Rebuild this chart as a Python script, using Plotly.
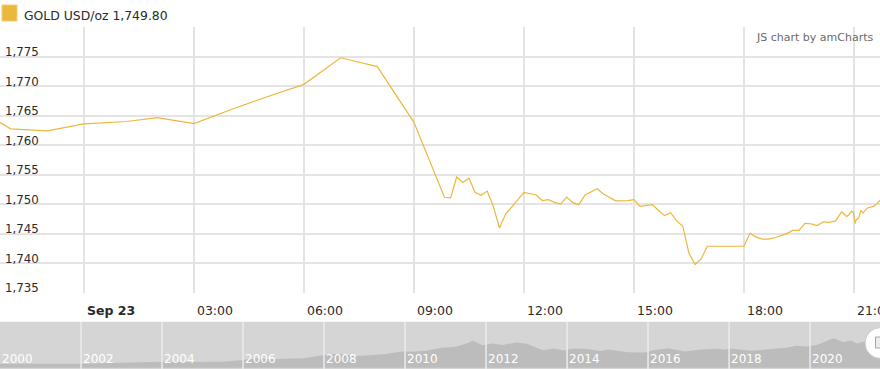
import plotly.graph_objects as go

# ---------------- data ----------------
times = [
    "2021-09-22 21:40", "2021-09-22 22:00", "2021-09-22 23:00",
    "2021-09-23 00:00", "2021-09-23 01:10", "2021-09-23 02:00", "2021-09-23 03:00",
    "2021-09-23 04:00", "2021-09-23 05:00", "2021-09-23 06:00", "2021-09-23 07:00",
    "2021-09-23 08:00", "2021-09-23 09:00", "2021-09-23 09:50", "2021-09-23 10:00",
    "2021-09-23 10:10", "2021-09-23 10:20", "2021-09-23 10:30", "2021-09-23 10:40",
    "2021-09-23 10:50", "2021-09-23 11:00", "2021-09-23 11:10", "2021-09-23 11:20",
    "2021-09-23 11:30", "2021-09-23 11:40", "2021-09-23 12:00", "2021-09-23 12:20",
    "2021-09-23 12:30", "2021-09-23 12:40", "2021-09-23 12:50", "2021-09-23 13:00",
    "2021-09-23 13:10", "2021-09-23 13:20", "2021-09-23 13:30", "2021-09-23 13:40",
    "2021-09-23 14:00", "2021-09-23 14:10", "2021-09-23 14:30", "2021-09-23 14:50",
    "2021-09-23 15:00", "2021-09-23 15:10", "2021-09-23 15:30", "2021-09-23 15:40",
    "2021-09-23 15:50", "2021-09-23 16:00", "2021-09-23 16:10", "2021-09-23 16:20",
    "2021-09-23 16:30", "2021-09-23 16:40", "2021-09-23 16:50", "2021-09-23 17:00",
    "2021-09-23 18:00", "2021-09-23 18:10", "2021-09-23 18:20", "2021-09-23 18:30",
    "2021-09-23 18:40", "2021-09-23 18:50", "2021-09-23 19:00", "2021-09-23 19:10",
    "2021-09-23 19:20", "2021-09-23 19:30", "2021-09-23 19:40", "2021-09-23 19:50",
    "2021-09-23 20:00", "2021-09-23 20:10", "2021-09-23 20:20", "2021-09-23 20:30",
    "2021-09-23 20:40", "2021-09-23 20:48", "2021-09-23 20:52", "2021-09-23 20:56",
    "2021-09-23 20:59", "2021-09-23 21:02", "2021-09-23 21:04", "2021-09-23 21:08",
    "2021-09-23 21:11", "2021-09-23 21:15", "2021-09-23 21:22", "2021-09-23 21:32",
    "2021-09-23 21:37", "2021-09-23 21:43",
]
prices = [
    1764.0, 1762.75, 1762.4,
    1763.6, 1764.0, 1764.65, 1763.65,
    1766.0, 1768.2, 1770.3, 1774.8,
    1773.3, 1763.85, 1751.15, 1751.05,
    1754.6, 1753.65, 1754.4, 1752.0,
    1751.5, 1752.2, 1749.6, 1745.95,
    1748.3, 1749.5, 1752.0, 1751.55,
    1750.6, 1750.75, 1750.3, 1750.0,
    1751.2, 1750.25, 1749.9, 1751.55,
    1752.6, 1751.7, 1750.55, 1750.6,
    1750.75, 1749.6, 1749.9, 1748.95,
    1748.05, 1748.55, 1747.15, 1746.25,
    1741.7, 1739.75, 1740.7, 1742.85,
    1742.85, 1745.05, 1744.4, 1744.05,
    1744.05, 1744.3, 1744.7, 1745.0,
    1745.55, 1745.55, 1746.75, 1746.65,
    1746.35, 1747.0, 1746.9, 1747.15,
    1748.7, 1747.9, 1748.2, 1748.8,
    1748.6, 1746.7, 1747.4, 1747.65,
    1748.95, 1748.5, 1749.35, 1749.6,
    1750.0, 1750.65,
]

y_ticks = [1735, 1740, 1745, 1750, 1755, 1760, 1765, 1770, 1775, 1780]
y_tick_text = ["1,735", "1,740", "1,745", "1,750", "1,755", "1,760", "1,765", "1,770", "1,775", ""]

x_ticks = ["2021-09-23 00:00", "2021-09-23 03:00", "2021-09-23 06:00", "2021-09-23 09:00",
           "2021-09-23 12:00", "2021-09-23 15:00", "2021-09-23 18:00", "2021-09-23 21:00"]
x_tick_text = ["<b>Sep 23</b>", "03:00", "06:00", "09:00", "12:00", "15:00", "18:00", "21:00"]

hist_dates = [
    "2000-01-01", "2000-07-01", "2001-01-01", "2001-07-01", "2002-01-01", "2002-07-01",
    "2003-01-01", "2003-07-01", "2004-01-01", "2004-07-01", "2005-01-01", "2005-07-01",
    "2006-01-01", "2006-05-01", "2006-10-01", "2007-01-01", "2007-07-01", "2007-11-01",
    "2008-03-01", "2008-07-01", "2008-10-01", "2009-01-01", "2009-07-01", "2009-12-01",
    "2010-03-01", "2010-07-01", "2010-12-01", "2011-04-01", "2011-08-01", "2011-09-01",
    "2011-12-01", "2012-03-01", "2012-06-01", "2012-10-01", "2013-01-01", "2013-04-01",
    "2013-06-01", "2013-09-01", "2013-12-01", "2014-03-01", "2014-07-01", "2014-11-01",
    "2015-01-01", "2015-07-01", "2015-12-01", "2016-03-01", "2016-07-01", "2016-12-01",
    "2017-04-01", "2017-09-01", "2017-12-01", "2018-01-01", "2018-08-01", "2018-12-01",
    "2019-06-01", "2019-09-01", "2019-12-01", "2020-03-01", "2020-08-01", "2020-11-01",
    "2021-01-01", "2021-03-01", "2021-06-01", "2021-08-01", "2021-09-23",
]
hist_prices = [
    288, 282, 265, 268, 282, 314,
    356, 351, 414, 398, 424, 425,
    549, 675, 586, 631, 665, 806,
    968, 939, 806, 858, 934, 1130,
    1110, 1193, 1390, 1470, 1750, 1895,
    1570, 1690, 1590, 1770, 1670, 1390,
    1230, 1350, 1200, 1340, 1310, 1170,
    1280, 1090, 1060, 1240, 1360, 1140,
    1260, 1330, 1250, 1350, 1180, 1280,
    1400, 1530, 1480, 1580, 2060, 1780,
    1900, 1690, 1890, 1750, 1750,
]

years = ["2000-01-01", "2002-01-01", "2004-01-01", "2006-01-01", "2008-01-01", "2010-01-01",
         "2012-01-01", "2014-01-01", "2016-01-01", "2018-01-01", "2020-01-01"]
year_labels = ["2000", "2002", "2004", "2006", "2008", "2010", "2012", "2014", "2016", "2018", "2020"]

legend_text = "GOLD USD/oz 1,749.80"
credit_text = "JS chart by amCharts"

# ---------------- style ----------------
W, H = 880, 369
GOLD = "#ebb83c"
GRID = "#e4e4e4"
FONT = "DejaVu Sans"


def py(p):
    return 1 - p / H


fig = go.Figure()
fig.add_trace(go.Scatter(x=times, y=prices, mode="lines",
                         line=dict(color=GOLD, width=1.2),
                         xaxis="x", yaxis="y", hoverinfo="skip", showlegend=False))
fig.add_trace(go.Scatter(x=hist_dates, y=hist_prices, mode="lines",
                         line=dict(width=0, color="#bcbcbc"), fill="tozeroy",
                         fillcolor="#bcbcbc", xaxis="x2", yaxis="y2",
                         hoverinfo="skip", showlegend=False))

shapes = []
# scrollbar background
shapes.append(dict(type="rect", xref="x2 domain", yref="y2 domain", x0=0, x1=1, y0=0, y1=1,
                   fillcolor="#d5d5d5", line=dict(width=0), layer="below"))
# scrollbar dividers
for yv in years[1:]:
    shapes.append(dict(type="line", xref="x2", yref="y2 domain", x0=yv, x1=yv, y0=0, y1=1,
                       line=dict(color="#ececec", width=1.5), layer="above"))
# legend swatch
shapes.append(dict(type="rect", xref="paper", yref="paper",
                   x0=2 / W, x1=17 / W, y0=py(21), y1=py(5),
                   fillcolor=GOLD, line=dict(color="#f0cc70", width=1)))
# scrollbar handle
shapes.append(dict(type="circle", xref="paper", yref="paper",
                   x0=865 / W, x1=896 / W, y0=py(358.5), y1=py(327.5),
                   fillcolor="white", line=dict(color="#c8c8c8", width=1)))
shapes.append(dict(type="rect", xref="paper", yref="paper",
                   x0=875.5 / W, x1=888 / W, y0=py(348), y1=py(337),
                   fillcolor="#ececec", line=dict(color="#a8a8a8", width=1)))

annotations = [
    dict(text=legend_text, xref="paper", yref="paper", x=22 / W, y=py(15),
         xanchor="left", yanchor="middle", showarrow=False,
         font=dict(family=FONT, size=12.4, color="#2a2a2a")),
    dict(text=credit_text, xref="paper", yref="paper", x=875 / W, y=py(37),
         xanchor="right", yanchor="middle", showarrow=False,
         font=dict(family=FONT, size=11, color="#6a6a6a")),
]

fig.update_layout(
    width=W, height=H, autosize=False,
    margin=dict(l=0, r=0, t=0, b=0, pad=0, autoexpand=False),
    paper_bgcolor="white", plot_bgcolor="rgba(0,0,0,0)",
    font=dict(family=FONT, color="#222"),
    showlegend=False,
    shapes=shapes, annotations=annotations,
    xaxis=dict(domain=[0, 1], anchor="y", type="date",
               range=["2021-09-22 21:42:40", "2021-09-23 21:42:40"],
               tickmode="array", tickvals=x_ticks, ticktext=x_tick_text,
               ticklabelposition="outside right", ticklabeloverflow="allow",
               ticklabelshift=3, ticklabelstandoff=9, automargin=False,
               ticks="", showgrid=True, gridcolor=GRID, gridwidth=1.5,
               zeroline=False, showline=False,
               tickfont=dict(family=FONT, size=12.5, color="#2a2a2a")),
    yaxis=dict(domain=[py(292.7), py(27)], anchor="x",
               range=[1734.98, 1780.02],
               tickmode="array", tickvals=y_ticks, ticktext=y_tick_text,
               ticklabelposition="inside top", ticklabeloverflow="allow", ticks="",
               ticklabelshift=4, ticklabelstandoff=2, automargin=False,
               showgrid=True, gridcolor=GRID, gridwidth=1.5,
               zeroline=False, showline=False,
               tickfont=dict(family=FONT, size=11.8, color="#2a2a2a")),
    xaxis2=dict(domain=[0, 1], anchor="y2", type="date",
                range=["2000-01-01", "2021-09-23"],
                tickmode="array", tickvals=years, ticktext=year_labels,
                ticklabelposition="inside right", ticklabeloverflow="allow",
                ticklabelshift=2, ticklabelstandoff=-2, automargin=False,
                ticks="", showgrid=False, zeroline=False, showline=False,
                tickfont=dict(family=FONT, size=12, color="white")),
    yaxis2=dict(domain=[0, py(321.75)], anchor="x2", range=[-87, 3211],
                showticklabels=False, showgrid=False, zeroline=False, ticks="",
                automargin=False),
)

fig.write_html("out.html")
